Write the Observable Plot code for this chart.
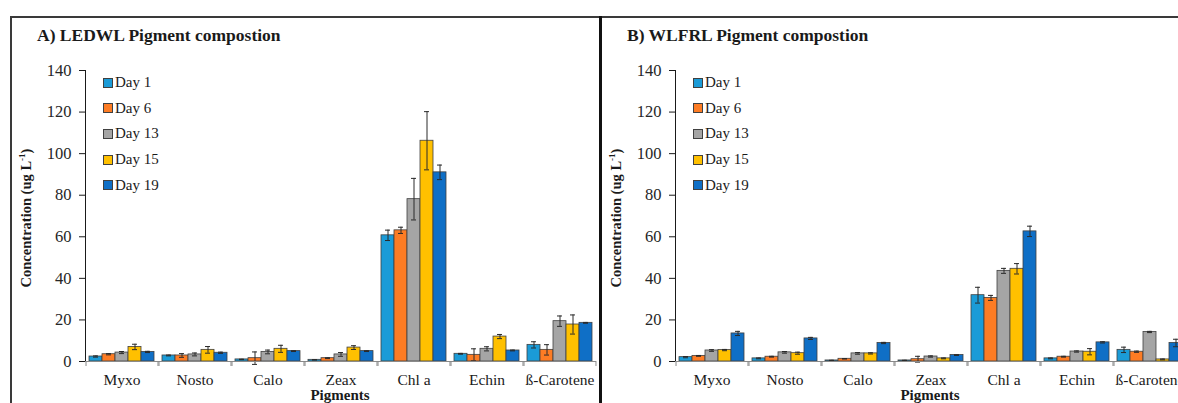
<!DOCTYPE html>
<html>
<head>
<meta charset="utf-8">
<script src="https://cdn.jsdelivr.net/npm/d3@7"></script>
<script src="https://cdn.jsdelivr.net/npm/@observablehq/plot@0.6"></script>
<style>
  body { margin: 0; background: #fff; }
  #wrap { position: relative; width: 1178px; height: 403px; overflow: hidden; font-family: "Liberation Serif", "Times New Roman", serif; color: #1a1a1a; background: #fff; }
  #wrap svg, #wrap svg text, #wrap svg g { font-family: "Liberation Serif", "Times New Roman", serif !important; }
  .panel { position: absolute; top: 0; }
  .title { position: absolute; font-weight: bold; font-size: 17.5px; line-height: 1; white-space: nowrap; }
  .ylab { position: absolute; font-weight: bold; font-size: 14.5px; white-space: nowrap; transform: translate(-50%, -50%) rotate(-90deg); line-height: 1; }
  .xlab { position: absolute; font-weight: bold; font-size: 15px; white-space: nowrap; transform: translateX(-50%); line-height: 1; }
  .leg { position: absolute; font-size: 15px; line-height: 1; white-space: nowrap; display: flex; align-items: center; }
  .leg i { display: inline-block; width: 8px; height: 8px; border: 1px solid #404040; margin-right: 2px; }
  .line { position: absolute; background: #3a3a3a; }
</style>
</head>
<body>
<div id="wrap"></div>
<script>
const pigments = ["Myxo", "Nosto", "Calo", "Zeax", "Chl a", "Echin", "ß-Carotene"];
const days = ["Day 1", "Day 6", "Day 13", "Day 15", "Day 19"];
const dayColors = ["#1b9bd7", "#fd7c24", "#a5a5a5", "#ffc000", "#0f6fc6"];
const yTicks = [0, 20, 40, 60, 80, 100, 120, 140];

// A) LEDWL — rows: days, columns: pigments
const ledwlMeans = [
  [2.4, 2.9, 1.0, 0.8, 60.7, 3.7, 8.0],
  [3.5, 2.9, 1.6, 1.6, 63.1, 3.2, 5.6],
  [4.3, 3.4, 4.6, 3.4, 78.1, 6.1, 19.4],
  [7.0, 5.6, 6.1, 6.7, 106.2, 12.0, 17.8],
  [4.6, 4.2, 5.0, 5.0, 91.0, 5.3, 18.6]
];
const ledwlErrors = [
  [0.3, 0.2, 0.1, 0.1, 2.5, 0.2, 1.5],
  [0.3, 0.9, 3.0, 0.2, 1.5, 2.9, 2.5],
  [0.5, 0.7, 0.9, 0.9, 10.0, 1.0, 2.5],
  [1.3, 1.6, 1.7, 0.9, 14.0, 1.0, 4.6],
  [0.3, 0.3, 0.2, 0.2, 3.5, 0.2, 0.2]
];

// B) WLFRL
const wlfrlMeans = [
  [2.1, 1.5, 0.5, 0.5, 31.9, 1.5, 5.6],
  [2.7, 2.3, 1.3, 1.1, 30.6, 2.3, 4.7],
  [5.3, 4.4, 3.9, 2.4, 43.6, 4.8, 14.2],
  [5.5, 4.0, 3.9, 1.5, 44.6, 4.7, 1.0],
  [13.5, 11.1, 8.9, 3.1, 62.6, 9.2, 8.9]
];
const wlfrlErrors = [
  [0.3, 0.2, 0.1, 0.1, 3.8, 0.2, 1.3],
  [0.2, 0.2, 0.1, 1.4, 1.2, 0.2, 0.3],
  [0.4, 0.4, 0.4, 0.3, 1.2, 0.3, 0.3],
  [0.3, 0.5, 0.3, 0.2, 2.5, 1.5, 0.2],
  [1.0, 0.5, 0.3, 0.2, 2.5, 0.3, 1.8]
];

const wrap = document.getElementById("wrap");

function addDiv(cls, css, html) {
  const d = document.createElement("div");
  d.className = cls;
  Object.assign(d.style, css);
  if (html != null) d.innerHTML = html;
  wrap.appendChild(d);
  return d;
}

function panel(means, errs, o) {
  const rows = days.flatMap((day, i) => pigments.map((pigment, j) => ({pigment, day, value: means[i][j], err: errs[i][j]})));
  const plotW = 512;
  const facetStep = plotW / pigments.length;
  const outerPad = 0.25;
  const dayStep = facetStep / (days.length + 2 * outerPad);
  const edge = dayStep * (0.5 + outerPad);
  const plotH = 403 - 70 - 42;
  const chart = Plot.plot({
    width: o.width,
    height: 403,
    marginLeft: o.marginLeft,
    marginRight: o.width - o.marginLeft - plotW,
    marginTop: 70,
    marginBottom: 42,
    style: {fontFamily: "Liberation Serif, serif", fontSize: "15.5px", color: "#1a1a1a", background: "transparent", overflow: "visible"},
    fx: {domain: pigments, padding: 0, axis: "bottom", tickSize: 0, tickPadding: 12, label: null},
    x: {domain: days, paddingInner: 0, paddingOuter: outerPad, axis: null},
    y: {domain: [0, 140], ticks: yTicks, tickSize: 6, tickPadding: 8, line: true, label: null},
    color: {domain: days, range: dayColors},
    marks: [
      Plot.barY(rows, {fx: "pigment", x: "day", y: "value", fill: "day", stroke: "#404040", strokeWidth: 0.8, inset: 0}),
      Plot.ruleX(rows, {fx: "pigment", x: "day", y1: d => d.value - d.err, y2: d => d.value + d.err, stroke: "#2a2a2a", strokeWidth: 1}),
      Plot.tickY(rows, {fx: "pigment", x: "day", y: d => d.value + d.err, insetLeft: 4, insetRight: 4, stroke: "#2a2a2a", strokeWidth: 1}),
      Plot.tickY(rows, {fx: "pigment", x: "day", y: d => d.value - d.err, insetLeft: 4, insetRight: 4, stroke: "#2a2a2a", strokeWidth: 1}),
      Plot.ruleY([0], {stroke: "#8a8a8a", strokeWidth: 1}),
      Plot.ruleX([days[0]], {x: d => d, dx: -edge, insetTop: plotH, insetBottom: -5, stroke: "#8a8a8a"}),
      Plot.ruleX([days[days.length - 1]], {x: d => d, dx: edge, insetTop: plotH, insetBottom: -5, stroke: "#8a8a8a"})
    ]
  });
  chart.classList.add("panel");
  chart.style.left = o.left + "px";
  const s = d3.select(chart);
  s.selectAll("[font-family]").attr("font-family", null);
  s.selectAll('[aria-label="y-axis tick"]').attr("stroke", "#8a8a8a");
  s.selectAll('[aria-label="y-axis line"]').attr("stroke", "#8a8a8a");
  s.selectAll('[aria-label="y-axis tick label"]').attr("fill", "#262626").attr("font-size", "16.5px");
  wrap.appendChild(chart);

  const axisX = o.left + o.marginLeft;
  addDiv("title", {left: o.titleX + "px", top: "27px"}, o.title);
  addDiv("ylab", {left: (axisX - 58) + "px", top: "218px"}, "Concentration (ug L<sup style=\"font-size:9px\">-1</sup>)");
  addDiv("xlab", {left: (axisX + plotW / 2) + "px", top: "388px"}, "Pigments");
  days.forEach((day, i) => {
    const el = addDiv("leg", {left: (axisX + 19) + "px", top: (75 + i * 25.7) + "px"}, "");
    const sw = document.createElement("i");
    sw.style.background = dayColors[i];
    el.appendChild(sw);
    el.appendChild(document.createTextNode(day));
  });
}

// outer frame lines
addDiv("line", {left: "10px", top: "16px", width: "1168px", height: "1.5px"});
addDiv("line", {left: "10px", top: "16px", width: "1.5px", height: "400px"});

panel(ledwlMeans, ledwlErrors, {left: 0, width: 600, marginLeft: 84, titleX: 37, title: "A) LEDWL Pigment compostion"});
panel(wlfrlMeans, wlfrlErrors, {left: 600, width: 600, marginLeft: 74, titleX: 627, title: "B) WLFRL Pigment compostion"});

addDiv("line", {left: "599px", top: "16px", width: "2.5px", height: "400px", background: "#111"});
</script>
</body>
</html>
